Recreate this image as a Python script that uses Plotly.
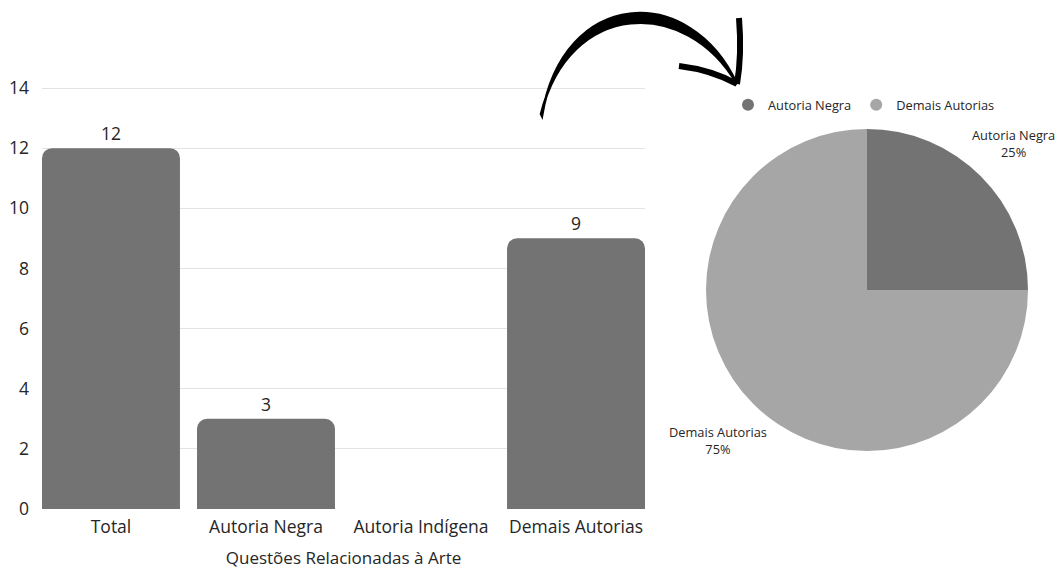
import plotly.graph_objects as go

# ---- data ----
categories = ["Total", "Autoria Negra", "Autoria Indígena", "Demais Autorias"]
values = [12, 3, 0, 9]
pie_labels = ["Autoria Negra", "Demais Autorias"]
pie_values = [3, 9]
y_ticks = [0, 2, 4, 6, 8, 10, 12, 14]

W, H = 1059, 569
DARK = "#737373"
LIGHT = "#a6a6a6"
TXT = "#262626"
FONT = "Open Sans"

def px(x, y):
    return x / W, 1 - y / H

fig = go.Figure()

fig.add_trace(go.Bar(
    x=categories, y=values,
    text=[str(v) if v else "" for v in values],
    textposition="outside", cliponaxis=False,
    textfont=dict(size=17.5, color=TXT, family=FONT),
    marker=dict(color=DARK, line=dict(width=0)),
    showlegend=False, hoverinfo="x+y",
))

fig.add_trace(go.Pie(
    labels=pie_labels, values=pie_values,
    marker=dict(colors=[DARK, LIGHT], line=dict(width=0)),
    sort=False, direction="clockwise", rotation=0,
    textinfo="none",
    domain=dict(x=[706 / W, 1028 / W], y=[1 - 451 / H, 1 - 129 / H]),
    showlegend=False, automargin=False,
))

# pie slice labels (label + percentage), placed outside like the reference
total = sum(pie_values)
label_pos = [(1013, 144), (718, 440)]
for lab, val, (lx, ly) in zip(pie_labels, pie_values, label_pos):
    ax, ay = px(lx, ly)
    fig.add_annotation(
        x=ax, y=ay, xref="paper", yref="paper", showarrow=False,
        text=f"{lab}<br>{round(100 * val / total)}%",
        font=dict(size=12.8, color=TXT, family=FONT), align="center",
        xanchor="center", yanchor="middle",
    )

# legend proxies (circle markers)
for lab, col in zip(pie_labels, [DARK, LIGHT]):
    fig.add_trace(go.Scatter(
        x=[None], y=[None], mode="markers", name=lab,
        marker=dict(symbol="circle", size=12, color=col),
        xaxis="x", yaxis="y", showlegend=True,
    ))

# hand-drawn style arrow
def P(x, y):
    a, b = px(x, y)
    return f"{a:.5f},{b:.5f}"

body = (f"M {P(542,116)} C {P(563,-12)} {P(690,-18)} {P(737,84)} "
        f"C {P(686,-4)} {P(569,0)} {P(541,114)} Z")
fig.add_shape(type="path", path=body, xref="paper", yref="paper",
              fillcolor="black", line=dict(color="black", width=2.5), layer="above")
barb = f"M {P(679,66)} Q {P(712,70)} {P(737,84)}"
tail = f"M {P(739,18)} Q {P(742,55)} {P(737,84)}"
for path, w in [(barb, 6), (tail, 6)]:
    fig.add_shape(type="path", path=path, xref="paper", yref="paper",
                  line=dict(color="black", width=w), layer="above")

y0px, ytop = 509, 88
unit = (y0px - ytop) / 14
yr_top = 14.5
top_px = y0px - yr_top * unit

gap = 0.11
fig.update_layout(
    width=W, height=H,
    margin=dict(l=0, r=0, t=0, b=0),
    paper_bgcolor="white", plot_bgcolor="white",
    font=dict(family=FONT, color=TXT),
    bargap=gap,
    barcornerradius=10,
    xaxis=dict(
        domain=[42 / W, 645 / W], automargin=False,
        range=[-0.5 + gap / 2, len(categories) - 0.5 - gap / 2],
        showline=False, showgrid=False, ticks="",
        tickfont=dict(size=17.5, color=TXT),
        ticklabelstandoff=5,
        title=dict(text="Questões Relacionadas à Arte", font=dict(size=17, color=TXT), standoff=16),
    ),
    yaxis=dict(
        domain=[1 - y0px / H, 1 - top_px / H], automargin=False,
        range=[0, yr_top], tickvals=y_ticks,
        showgrid=True, gridcolor="#e3e3e3", gridwidth=1,
        zeroline=False, showline=False, ticks="",
        tickfont=dict(size=17.5, color=TXT),
        ticklabelstandoff=12,
    ),
    legend=dict(
        orientation="h", x=728 / W, y=1 - 90 / H, xanchor="left", yanchor="top",
        font=dict(size=12.8, color=TXT, family=FONT), bgcolor="rgba(0,0,0,0)",
        itemclick=False,
    ),
)

fig.write_html("out.html", config={"displayModeBar": False},
               post_script="document.body.style.margin='0';")
